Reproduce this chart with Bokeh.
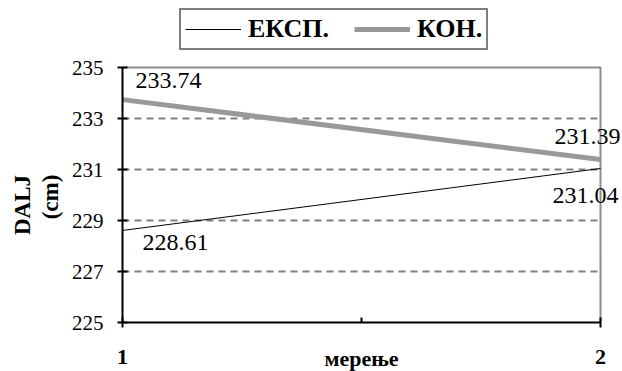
import math
from bokeh.plotting import figure
from bokeh.models import (ColumnDataSource, FixedTicker, Legend, LegendItem,
                          LabelSet, Label, Range1d)
from bokeh.core.properties import value
from bokeh.embed import file_html
from bokeh.resources import INLINE

# measurements and mean values per group
measurements = [1, 2]
eksp = [228.61, 231.04]
kon = [233.74, 231.39]
series_names = ["ЕКСП.", "КОН."]
y_ticks = [225, 227, 229, 231, 233, 235]
x_label = "мерење"
y_label_lines = ["DALJ", "(cm)"]

FONT = "Liberation Serif"

# canvas size and the data area inside it (pixels)
W, H = 622, 371
LEFT, RIGHT, TOP, BOTTOM = 122, 600, 67, 322
x0, x1 = measurements[0], measurements[-1]
y0, y1 = y_ticks[0], y_ticks[-1]
px_x = (RIGHT - LEFT) / (x1 - x0)
px_y = (BOTTOM - TOP) / (y1 - y0)

# the frame covers the whole canvas; the axes are pinned to the data area
p = figure(frame_width=W, frame_height=H, output_backend="svg",
           toolbar_location=None,
           x_range=Range1d(x0 - LEFT / px_x, x0 + (W - LEFT) / px_x),
           y_range=Range1d(y0 - (H - BOTTOM) / px_y, y0 + BOTTOM / px_y),
           min_border_left=0, min_border_right=0,
           min_border_top=0, min_border_bottom=0)
p.background_fill_color = "white"
p.border_fill_color = "white"
p.outline_line_color = None
p.xgrid.visible = False
p.ygrid.visible = False

# dashed horizontal grid lines inside the data area
grid_y = [t for t in y_ticks if t not in (y0, y1)]
p.segment(x0=[x0] * len(grid_y), y0=grid_y, x1=[x1] * len(grid_y), y1=grid_y,
          line_color="#808080", line_width=2, line_dash="7 5")
# top and right border of the data area
p.line(x=[x0, x1, x1], y=[y1, y1, y0], line_color="#8c8c8c", line_width=2)

# axes
for ax in (p.xaxis[0], p.yaxis[0]):
    ax.axis_line_color = "black"
    ax.axis_line_width = 2
    ax.major_tick_line_color = "black"
    ax.major_tick_line_width = 2
    ax.major_tick_in = 5
    ax.major_tick_out = 5
    ax.major_label_text_font = FONT
    ax.major_label_text_color = "black"

p.yaxis.fixed_location = x0
p.yaxis.bounds = (y0, y1)
p.yaxis.ticker = FixedTicker(ticks=y_ticks)
p.yaxis.minor_tick_line_color = None
p.yaxis.major_label_text_font_size = "21px"
p.yaxis.major_label_standoff = 14

p.xaxis.fixed_location = y0
p.xaxis.bounds = (x0, x1)
p.xaxis.ticker = FixedTicker(ticks=measurements, minor_ticks=[(x0 + x1) / 2])
p.xaxis.minor_tick_line_color = "black"
p.xaxis.minor_tick_line_width = 2
p.xaxis.minor_tick_in = 5
p.xaxis.minor_tick_out = 0
p.xaxis.major_label_text_font_size = "22px"
p.xaxis.major_label_text_font_style = "bold"
p.xaxis.major_label_standoff = 22

# axis titles
title_style = dict(text_font=FONT, text_font_style="bold", text_color="black")
y_mid = (y0 + y1) / 2
p.add_layout(Label(x=x0, y=y_mid, x_offset=-100, y_offset=-10,
                   text=y_label_lines[0], angle=math.pi / 2,
                   text_align="center", text_baseline="middle",
                   text_font_size="23px", **title_style))
p.add_layout(Label(x=x0, y=y_mid, x_offset=-72, y_offset=-2,
                   text=y_label_lines[1], angle=math.pi / 2,
                   text_align="center", text_baseline="middle",
                   text_font_size="23px", **title_style))
p.add_layout(Label(x=(x0 + x1) / 2, y=y0, y_offset=-36, text=x_label,
                   text_align="center", text_baseline="middle",
                   text_font_size="22px", **title_style))

# pixel offsets of the value labels relative to their points
kon_dx, kon_dy = [13, -46], [12, 16]
eksp_dx, eksp_dy = [20, -48], [-20, -35]

src = ColumnDataSource(dict(x=measurements, eksp=eksp, kon=kon,
                            eksp_txt=[f"{v:.2f}" for v in eksp],
                            kon_txt=[f"{v:.2f}" for v in kon],
                            kon_dx=kon_dx, kon_dy=kon_dy,
                            eksp_dx=eksp_dx, eksp_dy=eksp_dy))

r_eksp = p.line("x", "eksp", source=src, line_color="black", line_width=1)
r_kon = p.line("x", "kon", source=src, line_color="#999999", line_width=5)

# value labels
lbl_style = dict(text_font=value(FONT), text_font_size="24px",
                 text_color="black", text_baseline="alphabetic",
                 text_align="left")
p.add_layout(LabelSet(x="x", y="kon", text="kon_txt", source=src,
                      x_offset="kon_dx", y_offset="kon_dy", **lbl_style))
p.add_layout(LabelSet(x="x", y="eksp", text="eksp_txt", source=src,
                      x_offset="eksp_dx", y_offset="eksp_dy", **lbl_style))

# legend box above the data area (location = bottom-left corner)
legend = Legend(items=[LegendItem(label=series_names[0], renderers=[r_eksp]),
                       LegendItem(label=series_names[1], renderers=[r_kon])],
                orientation="horizontal", location=(179, H - 50), margin=0,
                padding=4, spacing=25, label_standoff=7,
                glyph_width=56, glyph_height=26, label_height=26,
                label_text_font=FONT, label_text_font_size="26px",
                label_text_font_style="bold", label_text_color="black",
                border_line_color="black", border_line_width=2,
                background_fill_color="white", background_fill_alpha=1)
p.add_layout(legend, "center")

open("out.html", "w").write(file_html(p, INLINE))
